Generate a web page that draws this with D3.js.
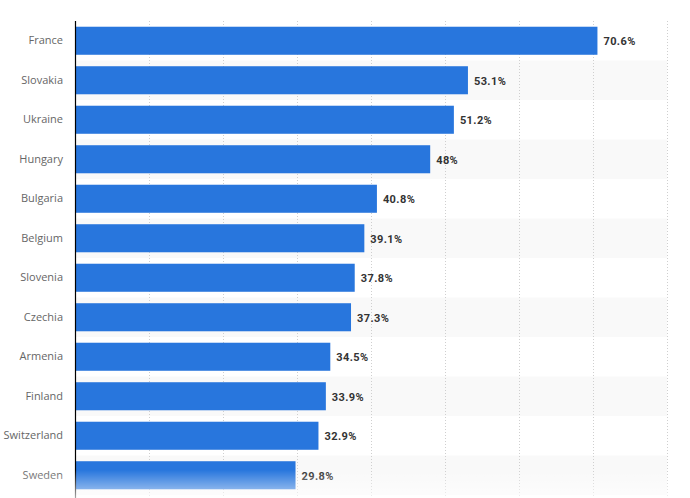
<!DOCTYPE html>
<html>
<head>
<meta charset="utf-8">
<script src="https://cdn.jsdelivr.net/npm/d3@7"></script>
<style>
  body { margin: 0; background: #fff; }
  svg { display: block; font-family: "Open Sans", sans-serif; }
</style>
</head>
<body>
<svg id="chart" width="690" height="498"></svg>
<script>
const countries = ["France", "Slovakia", "Ukraine", "Hungary", "Bulgaria", "Belgium",
    "Slovenia", "Czechia", "Armenia", "Finland", "Switzerland", "Sweden"]
const shares = [70.6, 53.1, 51.2, 48, 40.8, 39.1, 37.8, 37.3, 34.5, 33.9, 32.9, 29.8]
const xTicks = [0, 10, 20, 30, 40, 50, 60, 70, 80]

const width = 690
const height = 498
const margin = {top: 21, right: 23, bottom: 3, left: 75}

const svg = d3.select("#chart")

const x = d3.scaleLinear()
    .domain([0, 80])
    .range([margin.left, width - margin.right])

const y = d3.scaleBand()
    .domain(countries)
    .range([margin.top, height - margin.bottom])
    .paddingInner(0.29)
    .paddingOuter(0.145)

const rows = d3.scaleBand()
    .domain(countries)
    .range([margin.top, height - margin.bottom])

// striped rows
svg.append("g")
    .selectAll("rect")
    .data(countries)
    .join("rect")
    .attr("x", x(0))
    .attr("y", d => rows(d))
    .attr("width", x(80) - x(0))
    .attr("height", rows.bandwidth())
    .attr("fill", (d, i) => i % 2 === 1 ? "#f9f9f9" : "#fff")

// dotted grid
svg.append("g")
    .selectAll("line")
    .data(xTicks.slice(1))
    .join("line")
    .attr("x1", d => x(d) + 0.5)
    .attr("x2", d => x(d) + 0.5)
    .attr("y1", margin.top)
    .attr("y2", height)
    .attr("stroke", "#cfcfcf")
    .attr("stroke-width", 1)
    .attr("stroke-dasharray", "1,2")

// bars
svg.append("g")
    .selectAll("rect")
    .data(countries)
    .join("rect")
    .attr("x", x(0))
    .attr("y", d => y(d))
    .attr("width", (d, i) => x(shares[i]) - x(0))
    .attr("height", y.bandwidth())
    .attr("fill", "#2876dd")

// value labels
svg.append("g")
    .selectAll("text")
    .data(countries)
    .join("text")
    .attr("x", (d, i) => x(shares[i]) + 6)
    .attr("y", d => y(d) + y.bandwidth() / 2)
    .attr("dy", "0.4em")
    .attr("font-family", "Roboto, sans-serif")
    .attr("font-size", 11)
    .attr("font-weight", "bold")
    .attr("letter-spacing", 0.4)
    .attr("fill", "#333")
    .text((d, i) => shares[i] + "%")

// y axis
const yAxis = svg.append("g")
    .attr("transform", "translate(" + x(0) + ",0)")
    .call(d3.axisLeft(y).tickSize(0).tickPadding(12))
yAxis.select(".domain").remove()
yAxis.selectAll("text")
    .attr("font-size", 11)
    .attr("fill", "#666")
    .attr("font-family", "'Open Sans', sans-serif")

svg.append("line")
    .attr("x1", x(0) + 0.5)
    .attr("x2", x(0) + 0.5)
    .attr("y1", margin.top)
    .attr("y2", height)
    .attr("stroke", "#000")
    .attr("stroke-width", 1.2)

// bottom fade
const defs = svg.append("defs")
const grad = defs.append("linearGradient")
    .attr("id", "fade")
    .attr("x1", 0).attr("x2", 0).attr("y1", 0).attr("y2", 1)
grad.append("stop").attr("offset", "0%").attr("stop-color", "#fff").attr("stop-opacity", 0)
grad.append("stop").attr("offset", "100%").attr("stop-color", "#fff").attr("stop-opacity", 0.65)

svg.append("rect")
    .attr("x", 0)
    .attr("y", 470)
    .attr("width", width)
    .attr("height", height - 470)
    .attr("fill", "url(#fade)")
</script>
</body>
</html>
